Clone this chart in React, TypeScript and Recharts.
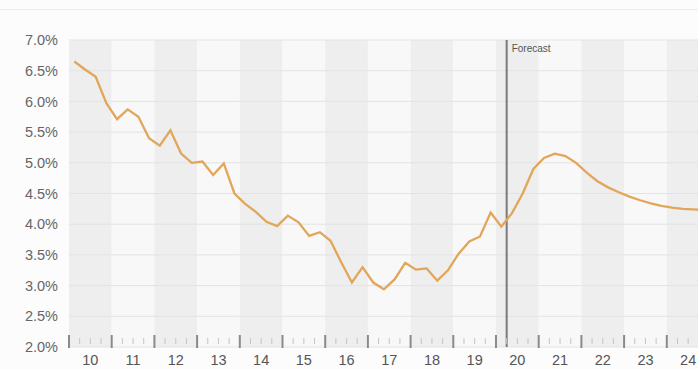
import { LineChart, Line, XAxis, YAxis, ReferenceArea, ReferenceLine } from 'recharts';

// quarterly rate, 2010 Q1 .. 2024 Q4 (forecast from 2020 Q2)
const startYear = 2010;
const rate = [
    6.65, 6.52, 6.40, 5.97, 5.71, 5.87, 5.75, 5.40, 5.28, 5.53,
    5.15, 5.00, 5.02, 4.80, 4.99, 4.50, 4.33, 4.20, 4.04, 3.97,
    4.14, 4.03, 3.81, 3.87, 3.73, 3.38, 3.05, 3.30, 3.05, 2.94,
    3.10, 3.37, 3.26, 3.28, 3.08, 3.25, 3.52, 3.72, 3.80, 4.19,
    3.96, 4.18, 4.50, 4.90, 5.08, 5.15, 5.11, 5.00, 4.84, 4.70,
    4.60, 4.52, 4.45, 4.39, 4.34, 4.30, 4.27, 4.25, 4.24, 4.23,
];
const years = [2010, 2011, 2012, 2013, 2014, 2015, 2016, 2017, 2018, 2019, 2020, 2021, 2022, 2023, 2024];
const yTicks = [2, 2.5, 3, 3.5, 4, 4.5, 5, 5.5, 6, 6.5, 7];
const forecastStart = 2020.25;

const data = rate.map((v, i) => ({ t: startYear + (i + 0.5) / 4, rate: v }));
const quarterTicks: number[] = [];
years.forEach((y) => [0, 0.25, 0.5, 0.75].forEach((q) => quarterTicks.push(y + q)));
quarterTicks.push(years[years.length - 1] + 1);

const QuarterTick = (props: any) => {
    const { x, y, payload } = props;
    const v = payload.value as number;
    const frac = Math.round((v - Math.floor(v)) * 4);
    if (frac === 0) {
        return <line x1={x} x2={x} y1={y - 12} y2={y + 1} stroke="#8a8a8a" strokeWidth={2} />;
    }
    return (
        <g>
            <line x1={x} x2={x} y1={y - 9} y2={y - 3} stroke="#c4c4c4" strokeWidth={1} />
            {frac === 2 && (
                <text x={x} y={y + 18} textAnchor="middle" fill="#555" fontSize={14.5}>
                    {String(Math.floor(v) % 100)}
                </text>
            )}
        </g>
    );
};

export default function App() {
    return (
        <div style={{ position: 'fixed', left: 0, top: 0, width: 698, height: 369, overflow: 'hidden', background: '#fcfcfc' }}>
            <div style={{ position: 'absolute', left: 0, top: 9, width: 698, height: 1, background: '#ececec' }} />
            <LineChart
                width={720}
                height={369}
                data={data}
                margin={{ top: 40, right: 10.5, bottom: 0, left: 0 }}
                style={{ fontFamily: '"Liberation Sans", Arial, sans-serif' }}
            >
                <XAxis
                    dataKey="t"
                    type="number"
                    domain={[startYear, 2025]}
                    ticks={quarterTicks}
                    interval={0}
                    tick={<QuarterTick />}
                    tickLine={false}
                    axisLine={false}
                    tickSize={0}
                    tickMargin={0}
                    height={22}
                    allowDataOverflow
                />
                <YAxis
                    domain={[2, 7]}
                    ticks={yTicks}
                    tickFormatter={(v: number) => v.toFixed(1) + '%'}
                    tick={{ fill: '#666', fontSize: 14.5 }}
                    tickLine={false}
                    axisLine={false}
                    tickSize={0}
                    tickMargin={11}
                    width={69}
                />
                {years.map((y) => (
                    <ReferenceArea
                        key={y}
                        x1={y}
                        x2={y + 1}
                        y1={2}
                        y2={7}
                        fill={y % 2 === 0 ? '#eeeeee' : '#f8f8f8'}
                        fillOpacity={1}
                        strokeWidth={0}
                        ifOverflow="hidden"
                    />
                ))}
                {yTicks.map((v) => (
                    <ReferenceLine key={v} y={v} stroke="#e3e3e3" strokeWidth={1} />
                ))}
                <ReferenceLine
                    x={forecastStart}
                    stroke="#7a7a7a"
                    strokeWidth={2}
                    label={{ value: 'Forecast', position: 'insideTopLeft', fontSize: 10, fill: '#555', offset: 5 }}
                />
                <Line
                    type="linear"
                    dataKey="rate"
                    stroke="#e2a65a"
                    strokeWidth={2.3}
                    dot={false}
                    isAnimationActive={false}
                />
            </LineChart>
        </div>
    );
}
